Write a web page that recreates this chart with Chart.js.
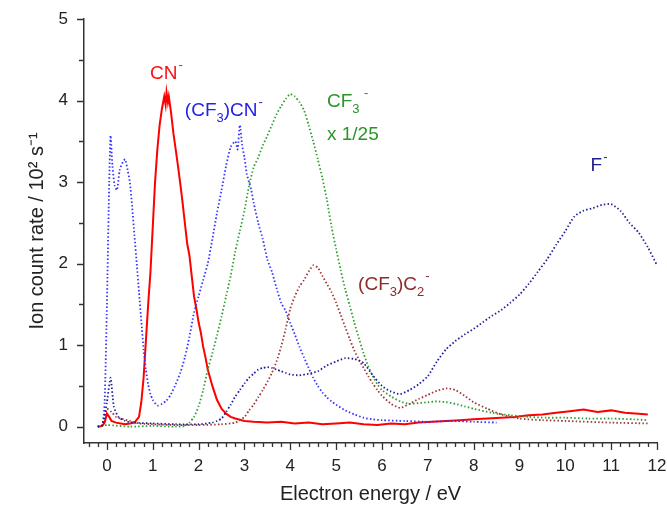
<!DOCTYPE html>
<html lang="en">
<head>
<meta charset="UTF-8">
<title>Electron attachment ion yields</title>
<script src="https://cdn.jsdelivr.net/npm/chart.js"></script>
<style>
  html, body { margin: 0; padding: 0; background: #fff; }
  #wrap { width: 667px; height: 506px; }
</style>
</head>
<body>
<div id="wrap"><canvas id="chart" width="667" height="506"></canvas></div>
<script>
// CN- (solid red)
const cnEnergy = [-0.2, -0.1, -0.05, 0.0, 0.05, 0.1, 0.2, 0.3, 0.4, 0.5, 0.6, 0.7, 0.75, 0.8, 0.85, 0.9, 0.95, 1.0, 1.05, 1.1, 1.15, 1.2, 1.25, 1.28, 1.3, 1.33, 1.35, 1.4, 1.45, 1.5, 1.55, 1.6, 1.65, 1.7, 1.75, 1.8, 1.85, 1.9, 1.95, 2.0, 2.05, 2.1, 2.15, 2.2, 2.25, 2.3, 2.4, 2.5, 2.6, 2.7, 2.8, 3.0, 3.2, 3.5, 3.8, 4.1, 4.4, 4.7, 5.0, 5.3, 5.6, 5.9, 6.2, 6.5, 6.8, 7.1, 7.4, 7.7, 8.0, 8.3, 8.6, 8.9, 9.2, 9.5, 9.8, 10.1, 10.4, 10.7, 11.0, 11.3, 11.6, 11.8];
const cnRate = [0.0, 0.01, 0.05, 0.16, 0.12, 0.07, 0.05, 0.04, 0.03, 0.04, 0.05, 0.12, 0.3, 0.6, 1.05, 1.5, 1.9, 2.45, 3.0, 3.4, 3.7, 3.9, 4.05, 3.95, 4.1, 3.98, 4.05, 3.85, 3.6, 3.4, 3.2, 2.98, 2.75, 2.5, 2.25, 2.1, 1.85, 1.6, 1.45, 1.28, 1.15, 0.98, 0.85, 0.7, 0.6, 0.5, 0.33, 0.22, 0.16, 0.12, 0.1, 0.07, 0.06, 0.05, 0.06, 0.04, 0.05, 0.03, 0.04, 0.05, 0.03, 0.02, 0.04, 0.03, 0.05, 0.06, 0.07, 0.08, 0.09, 0.1, 0.11, 0.12, 0.14, 0.15, 0.17, 0.19, 0.21, 0.18, 0.2, 0.17, 0.16, 0.15];

// (CF3)CN- (blue dotted)
const cf3cnEnergy = [-0.2, -0.1, -0.05, 0.0, 0.05, 0.08, 0.12, 0.17, 0.22, 0.28, 0.35, 0.4, 0.45, 0.5, 0.55, 0.6, 0.65, 0.7, 0.75, 0.8, 0.85, 0.9, 0.95, 1.0, 1.1, 1.2, 1.3, 1.4, 1.5, 1.6, 1.7, 1.8, 1.9, 2.0, 2.1, 2.2, 2.3, 2.4, 2.5, 2.6, 2.7, 2.8, 2.85, 2.9, 2.95, 3.0, 3.05, 3.1, 3.15, 3.2, 3.3, 3.4, 3.5, 3.6, 3.7, 3.8, 3.9, 4.0, 4.1, 4.2, 4.3, 4.4, 4.5, 4.6, 4.7, 4.8, 4.9, 5.0, 5.2, 5.4, 5.6, 5.8, 6.0, 6.5, 7.0, 7.5, 8.0, 8.5];
const cf3cnRate = [0.0, 0.02, 0.3, 1.5, 3.0, 3.57, 3.2, 2.95, 2.9, 3.15, 3.25, 3.28, 3.15, 3.0, 2.7, 2.35, 2.0, 1.65, 1.3, 0.95, 0.7, 0.52, 0.4, 0.33, 0.26, 0.28, 0.32, 0.4, 0.52, 0.66, 0.85, 1.1, 1.4, 1.6, 1.8, 2.0, 2.3, 2.62, 2.9, 3.2, 3.43, 3.5, 3.4, 3.7, 3.45, 3.3, 3.1, 3.0, 2.9, 2.75, 2.5, 2.3, 2.05, 1.9, 1.7, 1.52, 1.42, 1.27, 1.13, 0.98, 0.85, 0.72, 0.6, 0.5, 0.42, 0.36, 0.31, 0.27, 0.2, 0.15, 0.11, 0.09, 0.08, 0.07, 0.06, 0.07, 0.06, 0.05];

// CF3- x 1/25 (green dotted)
const cf3Energy = [-0.2, 0.0, 0.5, 1.0, 1.5, 1.7, 1.8, 1.9, 2.0, 2.1, 2.2, 2.3, 2.4, 2.5, 2.6, 2.7, 2.8, 2.9, 3.0, 3.1, 3.2, 3.3, 3.4, 3.5, 3.6, 3.7, 3.8, 3.9, 4.0, 4.1, 4.2, 4.3, 4.4, 4.5, 4.6, 4.7, 4.8, 4.9, 5.0, 5.1, 5.2, 5.3, 5.4, 5.5, 5.6, 5.7, 5.8, 5.9, 6.0, 6.2, 6.4, 6.6, 6.8, 7.0, 7.2, 7.4, 7.6, 7.8, 8.0, 8.4, 8.8, 9.2, 9.6, 10.0, 10.5, 11.0, 11.5, 11.8];
const cf3Rate = [0.0, 0.02, 0.0, 0.01, 0.0, 0.01, 0.05, 0.12, 0.25, 0.45, 0.7, 0.9, 1.12, 1.35, 1.6, 1.85, 2.15, 2.4, 2.65, 2.95, 3.18, 3.3, 3.45, 3.57, 3.7, 3.83, 3.93, 4.02, 4.08, 4.05, 3.98, 3.88, 3.7, 3.5, 3.28, 3.05, 2.78, 2.45, 2.18, 1.92, 1.68, 1.48, 1.27, 1.08, 0.9, 0.74, 0.62, 0.52, 0.45, 0.37, 0.31, 0.28, 0.29, 0.3, 0.31, 0.3, 0.28, 0.25, 0.22, 0.17, 0.14, 0.12, 0.11, 0.11, 0.1, 0.1, 0.09, 0.08];

// (CF3)C2- (dark red dotted)
const cf3c2Energy = [-0.2, -0.1, 0.0, 0.1, 0.2, 0.3, 0.5, 0.7, 1.0, 1.5, 2.0, 2.5, 2.8, 3.0, 3.1, 3.2, 3.3, 3.4, 3.5, 3.6, 3.7, 3.8, 3.9, 4.0, 4.1, 4.2, 4.3, 4.4, 4.5, 4.6, 4.7, 4.8, 4.9, 5.0, 5.1, 5.2, 5.3, 5.4, 5.5, 5.6, 5.7, 5.8, 5.9, 6.0, 6.2, 6.4, 6.6, 6.8, 7.0, 7.2, 7.4, 7.6, 7.8, 8.0, 8.3, 8.6, 9.0, 9.5, 10.0, 11.0, 11.8];
const cf3c2Rate = [0.0, 0.02, 0.22, 0.18, 0.12, 0.1, 0.07, 0.04, 0.03, 0.02, 0.02, 0.03, 0.05, 0.12, 0.2, 0.27, 0.36, 0.45, 0.55, 0.66, 0.8, 0.98, 1.2, 1.45, 1.6, 1.72, 1.8, 1.9, 1.98, 1.95, 1.85, 1.75, 1.65, 1.52, 1.37, 1.22, 1.07, 0.93, 0.82, 0.72, 0.62, 0.53, 0.45, 0.38, 0.28, 0.23, 0.28, 0.34, 0.39, 0.44, 0.47, 0.45, 0.38, 0.3, 0.22, 0.15, 0.1, 0.08, 0.07, 0.05, 0.04];

// F- (navy dotted)
const fEnergy = [-0.2, -0.1, 0.0, 0.08, 0.15, 0.25, 0.4, 0.6, 1.0, 1.5, 2.0, 2.3, 2.4, 2.5, 2.6, 2.7, 2.8, 2.9, 3.0, 3.1, 3.2, 3.3, 3.4, 3.5, 3.6, 3.7, 3.8, 3.9, 4.0, 4.2, 4.4, 4.6, 4.8, 5.0, 5.2, 5.4, 5.6, 5.8, 6.0, 6.2, 6.4, 6.6, 6.8, 7.0, 7.2, 7.4, 7.6, 7.8, 8.0, 8.2, 8.4, 8.6, 8.8, 9.0, 9.2, 9.4, 9.6, 9.8, 10.0, 10.2, 10.4, 10.6, 10.8, 11.0, 11.2, 11.4, 11.6, 11.8, 12.0];
const fRate = [0.0, 0.02, 0.3, 0.6, 0.25, 0.12, 0.07, 0.05, 0.04, 0.03, 0.03, 0.05, 0.07, 0.1, 0.18, 0.27, 0.37, 0.45, 0.53, 0.6, 0.65, 0.7, 0.72, 0.73, 0.72, 0.7, 0.68, 0.66, 0.64, 0.63, 0.65, 0.68, 0.75, 0.8, 0.84, 0.83, 0.78, 0.63, 0.5, 0.43, 0.4, 0.45, 0.52, 0.62, 0.8, 0.95, 1.05, 1.13, 1.2, 1.28, 1.36, 1.43, 1.52, 1.62, 1.75, 1.9, 2.05, 2.23, 2.4, 2.58, 2.65, 2.68, 2.72, 2.73, 2.65, 2.5, 2.38, 2.2, 1.98];

// axes
const xMin = -0.5, xMax = 12;
const yMin = -0.2, yMax = 5;
const xTickValues = [0, 1, 2, 3, 4, 5, 6, 7, 8, 9, 10, 11, 12];
const yTickValues = [0, 1, 2, 3, 4, 5];

function pts(xs, ys) {
  return xs.map((x, i) => ({ x: x, y: ys[i] }));
}

// series labels, anchored in data units (left, baseline)
const labelItems = [
  { x: 0.94, y: 4.27, color: '#ff1010', parts: [['CN', 'n'], ['-', 'sup']] },
  { x: 1.70, y: 3.81, color: '#2323e6', parts: [['(CF', 'n'], ['3', 'sub'], [')CN', 'n'], ['-', 'sup']] },
  { x: 4.80, y: 3.92, color: '#2a952a', parts: [['CF', 'n'], ['3', 'sub'], [' -', 'sup']] },
  { x: 4.80, y: 3.51, color: '#2a952a', parts: [['x 1/25', 'n']] },
  { x: 5.48, y: 1.68, color: '#8e2a2a', parts: [['(CF', 'n'], ['3', 'sub'], [')C', 'n'], ['2', 'sub'], ['-', 'sup']] },
  { x: 10.55, y: 3.14, color: '#1c1c8c', parts: [['F', 'n'], ['-', 'sup']] }
];

const labelPlugin = {
  id: 'seriesLabels',
  afterDatasetsDraw(chart) {
    const ctx = chart.ctx;
    const xs = chart.scales.x, ys = chart.scales.y;
    ctx.save();
    ctx.textBaseline = 'alphabetic';
    labelItems.forEach(item => {
      let px = xs.getPixelForValue(item.x);
      const py = ys.getPixelForValue(item.y);
      ctx.fillStyle = item.color;
      item.parts.forEach(([txt, mode]) => {
        if (mode === 'n') {
          ctx.font = '19px "Liberation Sans", Arial, sans-serif';
          ctx.fillText(txt, px, py);
        } else if (mode === 'sub') {
          ctx.font = '13px "Liberation Sans", Arial, sans-serif';
          ctx.fillText(txt, px, py + 6);
        } else {
          ctx.font = '13px "Liberation Sans", Arial, sans-serif';
          ctx.fillText(txt, px + 1, py - 10);
        }
        px += ctx.measureText(txt).width;
      });
    });
    ctx.restore();
  }
};

// outward tick marks, major and minor
const tickPlugin = {
  id: 'outerTicks',
  afterDraw(chart) {
    const ctx = chart.ctx;
    const xs = chart.scales.x, ys = chart.scales.y;
    const area = chart.chartArea;
    ctx.save();
    ctx.strokeStyle = '#333';
    ctx.lineWidth = 1.3;
    ctx.beginPath();
    for (let i = -2; i <= 60; i++) {
      const v = i * 0.2;
      const px = Math.round(xs.getPixelForValue(v)) + 0.5;
      const len = i % 5 === 0 ? 7 : 4;
      ctx.moveTo(px, area.bottom);
      ctx.lineTo(px, area.bottom + len);
    }
    for (let j = 0; j <= 10; j++) {
      const v = j * 0.5;
      const py = Math.round(ys.getPixelForValue(v)) + 0.5;
      const len = j % 2 === 0 ? 7 : 5;
      ctx.moveTo(area.left, py);
      ctx.lineTo(area.left - len, py);
    }
    ctx.stroke();
    ctx.restore();
  }
};

function dotted(label, xs, ys, color) {
  return {
    label: label,
    data: pts(xs, ys),
    borderColor: color,
    borderWidth: 1.8,
    borderDash: [1.5, 2.2],
    pointRadius: 0,
    tension: 0.2,
    fill: false
  };
}

new Chart(document.getElementById('chart'), {
  type: 'line',
  data: {
    datasets: [
      dotted('F-', fEnergy, fRate, '#1f1f99'),
      dotted('(CF3)C2-', cf3c2Energy, cf3c2Rate, '#a03535'),
      dotted('CF3- x 1/25', cf3Energy, cf3Rate, '#2e9e2e'),
      dotted('(CF3)CN-', cf3cnEnergy, cf3cnRate, '#3333ff'),
      {
        label: 'CN-',
        data: pts(cnEnergy, cnRate),
        borderColor: '#ff0000',
        borderWidth: 2,
        pointRadius: 0,
        tension: 0,
        fill: false
      }
    ]
  },
  options: {
    responsive: false,
    animation: false,
    devicePixelRatio: 1,
    layout: { autoPadding: false, padding: { top: 19, right: 10, left: 0, bottom: 0 } },
    plugins: {
      legend: { display: false },
      tooltip: { enabled: false }
    },
    scales: {
      x: {
        type: 'linear',
        min: xMin,
        max: xMax,
        afterFit: s => { s.height = 63; s.paddingLeft = 0; s.paddingRight = 0; },
        afterBuildTicks: s => { s.ticks = xTickValues.map(v => ({ value: v })); },
        grid: { display: false, drawTicks: false },
        border: { display: true, color: '#333', width: 1.5 },
        ticks: {
          autoSkip: false,
          maxRotation: 0,
          padding: 13,
          color: '#222',
          font: { family: '"Liberation Sans", Arial, sans-serif', size: 17 }
        },
        title: {
          display: true,
          text: 'Electron energy / eV',
          color: '#222',
          padding: { top: 0, bottom: 0 },
          font: { family: '"Liberation Sans", Arial, sans-serif', size: 20 }
        }
      },
      y: {
        type: 'linear',
        min: yMin,
        max: yMax,
        afterFit: s => { s.width = 84; s.paddingTop = 0; s.paddingBottom = 0; },
        afterBuildTicks: s => { s.ticks = yTickValues.map(v => ({ value: v })); },
        grid: { display: false, drawTicks: false },
        border: { display: true, color: '#333', width: 1.5 },
        ticks: {
          autoSkip: false,
          padding: 16,
          color: '#222',
          font: { family: '"Liberation Sans", Arial, sans-serif', size: 17 }
        },
        title: {
          display: true,
          text: 'Ion count rate / 10² s⁻¹',
          color: '#222',
          padding: { top: 25, bottom: 0 },
          font: { family: '"Liberation Sans", Arial, sans-serif', size: 20 }
        }
      }
    }
  },
  plugins: [labelPlugin, tickPlugin]
});
</script>
</body>
</html>
